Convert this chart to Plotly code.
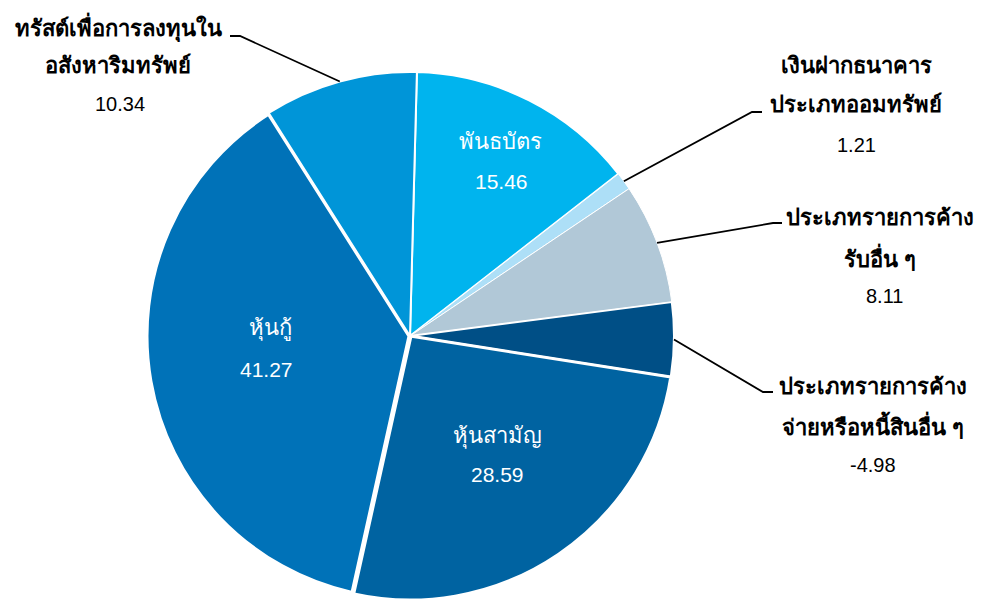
import numpy as np
import plotly.graph_objects as go

# ---- data ----
names_line1 = ["พันธบัตร", "เงินฝากธนาคาร", "ประเภทรายการค้าง", "ประเภทรายการค้าง",
               "หุ้นสามัญ", "หุ้นกู้", "ทรัสต์เพื่อการลงทุนใน"]
names_line2 = ["", "ประเภทออมทรัพย์", "รับอื่น ๆ", "จ่ายหรือหนี้สินอื่น ๆ",
               "", "", "อสังหาริมทรัพย์"]
values = [15.46, 1.21, 8.11, -4.98, 28.59, 41.27, 10.34]
colors = ["#00B4EE", "#ADDFF7", "#B1C8D7", "#004F86", "#0063A1", "#0072B8", "#0095D8"]
border_w = [2, 1, 1, 2, 3, 5, 2]

labels = [a + b for a, b in zip(names_line1, names_line2)]
sizes = np.abs(np.array(values))

W, H = 989, 600
CX, CY, R = 410, 336, 264
ROT = 1.5

def px(x):
    return x / W

def py(y):
    return 1 - y / H

def clamp(v):
    return min(1.0, max(0.0, v))

fig = go.Figure(go.Pie(
    labels=labels, values=sizes, sort=False, direction="clockwise", rotation=ROT,
    marker=dict(colors=colors, line=dict(color="white", width=border_w)),
    textinfo="none", hoverinfo="label+value", showlegend=False,
    domain=dict(x=[clamp(px(CX - R)), clamp(px(CX + R))],
                y=[clamp(py(CY + R)), clamp(py(CY - R))]),
))

font_fam = "Arial, Liberation Sans, Tahoma, sans-serif"

# label layout: (index, inside?, center x, y line1, y line2, y value, value x, elbow, end)
layout_spec = [
    (0, True, 500, 141, None, 181, 501, None, None),
    (1, False, 856, 66, 104, 145, 856, (752, 112), (762, 112)),
    (2, False, 880, 217, 258, 296, 884, (773, 223), (782, 223)),
    (3, False, 873, 386, 425, 465, 873, (763, 392), (773, 392)),
    (4, True, 497, 436, None, 474, 497, None, None),
    (5, True, 270, 328, None, 369, 266, None, None),
    (6, False, 118, 28, 66, 104, 120, (240, 36), (230, 36)),
]

total = sizes.sum()
cum = np.cumsum(sizes) - sizes
mid_deg = (cum + sizes / 2) / total * 360.0 + ROT

def ann(x, y, text, col, size):
    fig.add_annotation(x=px(x), y=py(y), xref="paper", yref="paper", text=text,
                       xanchor="center", yanchor="middle", showarrow=False,
                       font=dict(size=size, color=col, family=font_fam))

for i, inside, x, y1, y2, yv, xv, elbow, end in layout_spec:
    col = "white" if inside else "black"
    if inside:
        ann(x, y1, names_line1[i], col, 22)
        ann(xv, yv, f"{values[i]:.2f}", col, 21)
    else:
        ann(x, y1, "<b>" + names_line1[i] + "</b>", col, 22)
        ann(x, y2, "<b>" + names_line2[i] + "</b>", col, 22)
        ann(xv, yv, f"{values[i]:.2f}", col, 20)
    if elbow is not None:
        a = np.deg2rad(mid_deg[i])
        sx = CX + R * np.sin(a)
        sy = CY - R * np.cos(a)
        path = f"M {px(sx)} {py(sy)} L {px(elbow[0])} {py(elbow[1])} L {px(end[0])} {py(end[1])}"
        fig.add_shape(type="path", path=path, xref="paper", yref="paper",
                      line=dict(color="black", width=1.8))

fig.update_layout(width=W, height=H, margin=dict(l=0, r=0, t=0, b=0),
                  paper_bgcolor="white", plot_bgcolor="white")
fig.write_html("out.html", config={"displayModeBar": False},
               post_script="document.body.style.margin='0';document.body.style.overflow='hidden';")
